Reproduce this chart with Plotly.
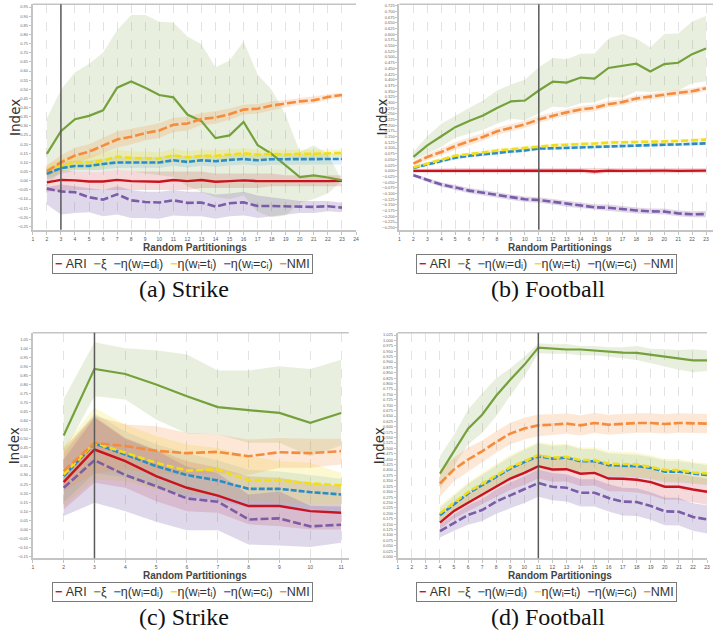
import plotly.graph_objects as go

# ---------------------------------------------------------------------------
# Data: mean index value and band limits per number of random partitionings
# ---------------------------------------------------------------------------
SERIES_KEYS = ["ari", "xi", "eta_d", "eta_t", "eta_c", "nmi"]
SERIES_LABELS = ["ARI", "ξ", "η(wᵢ=dᵢ)", "η(wᵢ=tᵢ)", "η(wᵢ=cᵢ)", "NMI"]

# (a) Strike
X_A = [2, 3, 4, 5, 6, 7, 8, 9, 10, 11, 12, 13, 14, 15, 16, 17, 18, 19, 20, 21, 22, 23]
ARI_A = [-0.009, 0.005, 0.002, -0.004, -0.004, 0.005, -0.002, -0.004, -0.005, 0.004, -0.002, 0.004, -0.005, -0.002, 0.002, -0.002, 0.000, -0.002, -0.002, -0.004, -0.002, 0.000]
ARI_A_HI = [0.05, 0.06, 0.05, 0.05, 0.05, 0.06, 0.05, 0.05, 0.05, 0.05, 0.05, 0.05, 0.04, 0.04, 0.04, 0.04, 0.04, 0.03, 0.03, 0.03, 0.03, 0.03]
ARI_A_LO = [-0.06, -0.05, -0.05, -0.05, -0.05, -0.05, -0.05, -0.05, -0.05, -0.05, -0.05, -0.04, -0.04, -0.04, -0.04, -0.04, -0.03, -0.03, -0.03, -0.03, -0.03, -0.03]
XI_A = [0.147, 0.271, 0.337, 0.355, 0.385, 0.509, 0.543, 0.509, 0.469, 0.456, 0.362, 0.326, 0.233, 0.248, 0.322, 0.195, 0.147, 0.083, 0.020, 0.029, 0.018, 0.002]
XI_A_HI = [0.340, 0.498, 0.594, 0.639, 0.702, 0.823, 0.907, 0.907, 0.870, 0.865, 0.789, 0.747, 0.621, 0.657, 0.762, 0.581, 0.498, 0.358, 0.159, 0.194, 0.147, 0.005]
XI_A_LO = [-0.03, 0.05, 0.06, 0.06, 0.05, 0.06, 0.05, 0.04, 0.03, 0.02, -0.03, -0.06, -0.09, -0.10, -0.08, -0.17, -0.20, -0.19, -0.12, -0.10, -0.07, 0.00]
ETA_D_A = [0.038, 0.069, 0.081, 0.081, 0.092, 0.100, 0.100, 0.101, 0.100, 0.112, 0.103, 0.112, 0.107, 0.114, 0.119, 0.112, 0.118, 0.118, 0.118, 0.118, 0.119, 0.119]
ETA_D_A_HI = [0.068, 0.099, 0.111, 0.111, 0.122, 0.130, 0.130, 0.131, 0.130, 0.142, 0.133, 0.142, 0.137, 0.144, 0.149, 0.142, 0.148, 0.148, 0.148, 0.148, 0.149, 0.149]
ETA_D_A_LO = [0.008, 0.039, 0.051, 0.051, 0.062, 0.070, 0.070, 0.071, 0.070, 0.082, 0.073, 0.082, 0.077, 0.084, 0.089, 0.082, 0.088, 0.088, 0.088, 0.088, 0.089, 0.089]
ETA_T_A = [0.056, 0.083, 0.100, 0.100, 0.110, 0.132, 0.125, 0.125, 0.121, 0.139, 0.128, 0.136, 0.136, 0.143, 0.150, 0.143, 0.147, 0.143, 0.148, 0.148, 0.152, 0.152]
ETA_T_A_HI = [0.086, 0.118, 0.140, 0.140, 0.150, 0.170, 0.160, 0.160, 0.155, 0.175, 0.162, 0.170, 0.168, 0.172, 0.178, 0.170, 0.172, 0.168, 0.170, 0.170, 0.172, 0.172]
ETA_T_A_LO = [0.026, 0.048, 0.060, 0.060, 0.070, 0.095, 0.090, 0.090, 0.088, 0.103, 0.094, 0.102, 0.104, 0.114, 0.122, 0.116, 0.122, 0.118, 0.126, 0.126, 0.132, 0.132]
ETA_C_A = [-0.043, -0.058, -0.063, -0.090, -0.103, -0.074, -0.107, -0.116, -0.119, -0.107, -0.121, -0.119, -0.141, -0.123, -0.118, -0.138, -0.138, -0.141, -0.143, -0.143, -0.139, -0.147]
ETA_C_A_HI = [-0.035, -0.020, -0.030, -0.040, -0.050, -0.030, -0.050, -0.060, -0.060, -0.050, -0.060, -0.060, -0.075, -0.070, -0.060, -0.080, -0.090, -0.100, -0.110, -0.110, -0.110, -0.120]
ETA_C_A_LO = [-0.130, -0.185, -0.176, -0.172, -0.194, -0.185, -0.203, -0.203, -0.208, -0.190, -0.194, -0.194, -0.208, -0.194, -0.190, -0.203, -0.197, -0.185, -0.176, -0.176, -0.166, -0.172]
NMI_A = [0.051, 0.101, 0.138, 0.159, 0.192, 0.226, 0.241, 0.261, 0.275, 0.306, 0.313, 0.338, 0.346, 0.364, 0.389, 0.394, 0.411, 0.422, 0.434, 0.440, 0.458, 0.469]
NMI_A_HI = [0.085, 0.140, 0.180, 0.200, 0.235, 0.270, 0.285, 0.300, 0.315, 0.345, 0.350, 0.370, 0.380, 0.395, 0.415, 0.420, 0.435, 0.442, 0.452, 0.458, 0.472, 0.482]
NMI_A_LO = [0.020, 0.065, 0.100, 0.120, 0.150, 0.180, 0.200, 0.220, 0.235, 0.265, 0.275, 0.305, 0.312, 0.333, 0.362, 0.368, 0.387, 0.402, 0.416, 0.422, 0.444, 0.456]

# (b) Football
X_B = [2, 3, 4, 5, 6, 7, 8, 9, 10, 11, 12, 13, 14, 15, 16, 17, 18, 19, 20, 21, 22, 23]
ARI_B = [0.000, 0.000, 0.000, 0.002, 0.001, 0.000, 0.000, 0.001, 0.000, 0.001, 0.001, 0.000, 0.001, -0.003, 0.001, 0.000, 0.001, 0.000, 0.001, 0.000, 0.000, 0.001]
ARI_B_HI = [0.008, 0.010, 0.010, 0.012, 0.012, 0.011, 0.011, 0.012, 0.011, 0.012, 0.012, 0.011, 0.012, 0.009, 0.012, 0.011, 0.012, 0.011, 0.012, 0.011, 0.011, 0.012]
ARI_B_LO = [-0.008, -0.010, -0.010, -0.008, -0.010, -0.011, -0.011, -0.010, -0.011, -0.010, -0.010, -0.011, -0.010, -0.015, -0.010, -0.011, -0.010, -0.011, -0.010, -0.011, -0.011, -0.010]
XI_B = [0.061, 0.112, 0.152, 0.192, 0.219, 0.243, 0.276, 0.305, 0.309, 0.353, 0.392, 0.388, 0.410, 0.405, 0.452, 0.462, 0.471, 0.437, 0.469, 0.475, 0.513, 0.538]
XI_B_HI = [0.083, 0.152, 0.207, 0.243, 0.276, 0.309, 0.353, 0.379, 0.400, 0.455, 0.496, 0.491, 0.515, 0.516, 0.582, 0.601, 0.582, 0.542, 0.601, 0.604, 0.656, 0.681]
XI_B_LO = [0.047, 0.076, 0.105, 0.146, 0.163, 0.181, 0.207, 0.229, 0.222, 0.251, 0.283, 0.277, 0.297, 0.302, 0.324, 0.321, 0.350, 0.346, 0.350, 0.353, 0.385, 0.394]
ETA_D_B = [0.013, 0.029, 0.044, 0.058, 0.066, 0.073, 0.079, 0.085, 0.090, 0.098, 0.099, 0.101, 0.105, 0.105, 0.109, 0.110, 0.114, 0.114, 0.115, 0.116, 0.118, 0.121]
ETA_D_B_HI = [0.020, 0.037, 0.052, 0.066, 0.074, 0.081, 0.087, 0.093, 0.098, 0.106, 0.107, 0.109, 0.113, 0.113, 0.117, 0.118, 0.122, 0.122, 0.123, 0.124, 0.126, 0.129]
ETA_D_B_LO = [0.006, 0.021, 0.036, 0.050, 0.058, 0.065, 0.071, 0.077, 0.082, 0.090, 0.091, 0.093, 0.097, 0.097, 0.101, 0.102, 0.106, 0.106, 0.107, 0.108, 0.110, 0.113]
ETA_T_B = [0.015, 0.032, 0.050, 0.066, 0.073, 0.082, 0.089, 0.095, 0.101, 0.108, 0.112, 0.115, 0.116, 0.120, 0.124, 0.125, 0.128, 0.128, 0.131, 0.131, 0.134, 0.137]
ETA_T_B_HI = [0.023, 0.040, 0.058, 0.074, 0.081, 0.090, 0.097, 0.103, 0.109, 0.116, 0.120, 0.123, 0.124, 0.128, 0.132, 0.133, 0.136, 0.136, 0.139, 0.139, 0.142, 0.145]
ETA_T_B_LO = [0.007, 0.024, 0.042, 0.058, 0.065, 0.074, 0.081, 0.087, 0.093, 0.100, 0.104, 0.107, 0.108, 0.112, 0.116, 0.117, 0.120, 0.120, 0.123, 0.123, 0.126, 0.129]
ETA_C_B = [-0.019, -0.041, -0.060, -0.073, -0.087, -0.096, -0.106, -0.117, -0.125, -0.128, -0.136, -0.146, -0.152, -0.160, -0.162, -0.169, -0.174, -0.178, -0.179, -0.187, -0.191, -0.190]
ETA_C_B_HI = [-0.013, -0.032, -0.050, -0.062, -0.075, -0.084, -0.094, -0.105, -0.113, -0.116, -0.124, -0.134, -0.140, -0.147, -0.148, -0.156, -0.161, -0.165, -0.166, -0.174, -0.178, -0.176]
ETA_C_B_LO = [-0.025, -0.050, -0.070, -0.084, -0.099, -0.108, -0.118, -0.129, -0.137, -0.140, -0.148, -0.158, -0.164, -0.173, -0.176, -0.182, -0.187, -0.191, -0.192, -0.200, -0.204, -0.204]
NMI_B = [0.032, 0.061, 0.083, 0.109, 0.130, 0.149, 0.174, 0.190, 0.204, 0.226, 0.243, 0.257, 0.270, 0.277, 0.293, 0.302, 0.318, 0.327, 0.335, 0.343, 0.350, 0.363]
NMI_B_HI = [0.042, 0.074, 0.098, 0.126, 0.147, 0.166, 0.191, 0.206, 0.220, 0.242, 0.258, 0.272, 0.285, 0.292, 0.307, 0.316, 0.331, 0.340, 0.348, 0.356, 0.363, 0.375]
NMI_B_LO = [0.022, 0.048, 0.068, 0.092, 0.113, 0.132, 0.157, 0.174, 0.188, 0.210, 0.228, 0.242, 0.255, 0.262, 0.279, 0.288, 0.305, 0.314, 0.322, 0.330, 0.337, 0.351]

# (c) Strike
X_C = [2, 3, 4, 5, 6, 7, 8, 9, 10, 11]
ARI_C = [0.261, 0.441, 0.377, 0.294, 0.230, 0.187, 0.129, 0.129, 0.101, 0.092]
ARI_C_HI = [0.423, 0.625, 0.505, 0.441, 0.377, 0.340, 0.294, 0.285, 0.257, 0.239]
ARI_C_LO = [0.110, 0.257, 0.230, 0.156, 0.101, 0.092, 0.028, 0.018, 0.000, 0.000]
XI_C = [0.518, 0.886, 0.858, 0.800, 0.735, 0.675, 0.658, 0.643, 0.588, 0.643]
XI_C_HI = [0.720, 1.033, 1.000, 0.989, 0.965, 0.877, 0.877, 0.900, 0.886, 0.937]
XI_C_LO = [0.423, 0.735, 0.717, 0.607, 0.530, 0.524, 0.478, 0.478, 0.404, 0.463]
ETA_D_C = [0.294, 0.474, 0.414, 0.349, 0.300, 0.270, 0.224, 0.224, 0.206, 0.193]
ETA_D_C_HI = [0.440, 0.640, 0.540, 0.470, 0.420, 0.380, 0.330, 0.320, 0.300, 0.280]
ETA_D_C_LO = [0.150, 0.310, 0.290, 0.230, 0.180, 0.160, 0.120, 0.130, 0.110, 0.100]
ETA_T_C = [0.303, 0.478, 0.423, 0.368, 0.325, 0.331, 0.272, 0.272, 0.254, 0.243]
ETA_T_C_HI = [0.460, 0.671, 0.579, 0.515, 0.469, 0.450, 0.404, 0.377, 0.368, 0.312]
ETA_T_C_LO = [0.129, 0.276, 0.267, 0.221, 0.193, 0.184, 0.156, 0.147, 0.138, 0.138]
ETA_C_C = [0.230, 0.382, 0.300, 0.239, 0.171, 0.153, 0.055, 0.061, 0.017, 0.026]
ETA_C_C_HI = [0.386, 0.617, 0.500, 0.436, 0.346, 0.310, 0.193, 0.210, 0.131, 0.126]
ETA_C_C_LO = [0.074, 0.147, 0.101, 0.042, -0.004, -0.004, -0.083, -0.088, -0.097, -0.074]
NMI_C = [0.322, 0.478, 0.460, 0.434, 0.421, 0.428, 0.404, 0.426, 0.421, 0.432]
NMI_C_HI = [0.450, 0.628, 0.579, 0.570, 0.533, 0.524, 0.496, 0.505, 0.500, 0.500]
NMI_C_LO = [0.210, 0.310, 0.330, 0.310, 0.300, 0.310, 0.300, 0.340, 0.340, 0.358]

# (d) Football
X_D = [4, 5, 6, 7, 8, 9, 10, 11, 12, 13, 14, 15, 16, 17, 18, 19, 20, 21, 22, 23]
ARI_D = [0.157, 0.211, 0.249, 0.287, 0.326, 0.361, 0.387, 0.418, 0.403, 0.404, 0.383, 0.387, 0.361, 0.360, 0.355, 0.344, 0.323, 0.323, 0.310, 0.300]
ARI_D_HI = [0.187, 0.246, 0.289, 0.332, 0.376, 0.414, 0.442, 0.475, 0.460, 0.461, 0.440, 0.445, 0.420, 0.419, 0.414, 0.404, 0.383, 0.383, 0.370, 0.360]
ARI_D_LO = [0.127, 0.176, 0.209, 0.242, 0.276, 0.308, 0.332, 0.361, 0.346, 0.347, 0.326, 0.329, 0.302, 0.301, 0.296, 0.284, 0.263, 0.263, 0.250, 0.240]
XI_D = [0.384, 0.487, 0.592, 0.656, 0.744, 0.818, 0.887, 0.967, 0.962, 0.958, 0.958, 0.953, 0.947, 0.944, 0.942, 0.933, 0.927, 0.916, 0.908, 0.908]
XI_D_HI = [0.464, 0.564, 0.679, 0.756, 0.825, 0.871, 0.925, 0.987, 0.982, 0.984, 0.974, 0.974, 0.968, 0.968, 0.974, 0.962, 0.959, 0.956, 0.959, 0.953]
XI_D_LO = [0.310, 0.418, 0.518, 0.572, 0.649, 0.744, 0.833, 0.941, 0.938, 0.938, 0.931, 0.931, 0.925, 0.918, 0.910, 0.895, 0.879, 0.864, 0.853, 0.859]
ETA_D_D = [0.191, 0.241, 0.292, 0.330, 0.369, 0.407, 0.437, 0.464, 0.453, 0.458, 0.441, 0.441, 0.423, 0.421, 0.418, 0.410, 0.393, 0.392, 0.384, 0.377]
ETA_D_D_HI = [0.226, 0.280, 0.336, 0.378, 0.420, 0.461, 0.494, 0.523, 0.512, 0.516, 0.498, 0.497, 0.478, 0.475, 0.471, 0.461, 0.443, 0.441, 0.431, 0.423]
ETA_D_D_LO = [0.156, 0.202, 0.248, 0.282, 0.318, 0.353, 0.380, 0.405, 0.394, 0.400, 0.384, 0.385, 0.368, 0.367, 0.365, 0.359, 0.343, 0.343, 0.337, 0.331]
ETA_T_D = [0.200, 0.249, 0.298, 0.337, 0.375, 0.413, 0.441, 0.469, 0.458, 0.461, 0.446, 0.446, 0.430, 0.427, 0.426, 0.415, 0.401, 0.400, 0.389, 0.384]
ETA_T_D_HI = [0.236, 0.289, 0.343, 0.386, 0.428, 0.470, 0.500, 0.530, 0.519, 0.521, 0.505, 0.504, 0.487, 0.483, 0.481, 0.468, 0.453, 0.451, 0.438, 0.432]
ETA_T_D_LO = [0.164, 0.209, 0.253, 0.288, 0.322, 0.356, 0.382, 0.408, 0.397, 0.401, 0.387, 0.388, 0.373, 0.371, 0.371, 0.362, 0.349, 0.349, 0.340, 0.336]
ETA_C_D = [0.118, 0.157, 0.192, 0.215, 0.254, 0.283, 0.310, 0.340, 0.323, 0.318, 0.295, 0.295, 0.271, 0.254, 0.252, 0.234, 0.209, 0.207, 0.183, 0.172]
ETA_C_D_HI = [0.148, 0.195, 0.237, 0.266, 0.310, 0.343, 0.372, 0.403, 0.386, 0.381, 0.358, 0.358, 0.334, 0.318, 0.316, 0.298, 0.273, 0.271, 0.247, 0.237]
ETA_C_D_LO = [0.088, 0.119, 0.147, 0.164, 0.198, 0.223, 0.248, 0.277, 0.260, 0.255, 0.232, 0.232, 0.208, 0.190, 0.188, 0.170, 0.145, 0.143, 0.119, 0.107]
NMI_D = [0.338, 0.403, 0.449, 0.487, 0.530, 0.569, 0.592, 0.607, 0.610, 0.615, 0.607, 0.618, 0.610, 0.615, 0.618, 0.618, 0.613, 0.618, 0.618, 0.615]
NMI_D_HI = [0.398, 0.458, 0.504, 0.537, 0.580, 0.619, 0.642, 0.657, 0.658, 0.662, 0.654, 0.664, 0.656, 0.660, 0.663, 0.663, 0.658, 0.663, 0.663, 0.660]
NMI_D_LO = [0.278, 0.348, 0.394, 0.437, 0.480, 0.519, 0.542, 0.557, 0.562, 0.568, 0.560, 0.572, 0.564, 0.570, 0.573, 0.573, 0.568, 0.573, 0.573, 0.570]

# selected number of partitionings, marked by a vertical rule
CUTOFF_A, CUTOFF_B, CUTOFF_C, CUTOFF_D = 3, 11, 3, 11
CAPTIONS = ["(a) Strike", "(b) Football", "(c) Strike", "(d) Football"]

# ---------------------------------------------------------------------------
# Styling
# ---------------------------------------------------------------------------
W, H = 716, 637
STYLE = {
    "ari":   dict(rgb=(200, 20, 30),  dash="solid",   width=2.4, alpha=0.16),
    "xi":    dict(rgb=(116, 161, 59), dash="solid",   width=2.2, alpha=0.17),
    "eta_d": dict(rgb=(43, 140, 196), dash="6px,2px", width=2.6, alpha=0.14),
    "eta_t": dict(rgb=(240, 222, 26), dash="7px,3px", width=2.6, alpha=0.20),
    "eta_c": dict(rgb=(123, 92, 166), dash="8px,3px", width=2.6, alpha=0.24),
    "nmi":   dict(rgb=(245, 139, 60), dash="9px,3px", width=2.6, alpha=0.20),
}
SANS = "Liberation Sans, Arial, sans-serif"
SERIF = "Liberation Serif, Times New Roman, serif"
KEY_FONT_SIZE = 12.5


def rgb(c, a=None):
    if a is None:
        return "rgb(%d,%d,%d)" % c
    return "rgba(%d,%d,%d,%.2f)" % (c[0], c[1], c[2], a)


def px_x(v):
    return v / W


def px_y(v):
    return 1 - v / H


PANELS = [
    dict(x=X_A, data={"ari": (ARI_A, ARI_A_LO, ARI_A_HI), "xi": (XI_A, XI_A_LO, XI_A_HI),
                      "eta_d": (ETA_D_A, ETA_D_A_LO, ETA_D_A_HI), "eta_t": (ETA_T_A, ETA_T_A_LO, ETA_T_A_HI),
                      "eta_c": (ETA_C_A, ETA_C_A_LO, ETA_C_A_HI), "nmi": (NMI_A, NMI_A_LO, NMI_A_HI)},
         cutoff=CUTOFF_A, xdom=(32, 357), ydom=(3.3, 229.5), xr=(1, 24), yr=(-0.268, 0.965),
         tick0=-0.25, dtick=0.05, fmt=".2f"),
    dict(x=X_B, data={"ari": (ARI_B, ARI_B_LO, ARI_B_HI), "xi": (XI_B, XI_B_LO, XI_B_HI),
                      "eta_d": (ETA_D_B, ETA_D_B_LO, ETA_D_B_HI), "eta_t": (ETA_T_B, ETA_T_B_LO, ETA_T_B_HI),
                      "eta_c": (ETA_C_B, ETA_C_B_LO, ETA_C_B_HI), "nmi": (NMI_B, NMI_B_LO, NMI_B_HI)},
         cutoff=CUTOFF_B, xdom=(400.7, 716), ydom=(3.3, 229.5), xr=(1, 23.5), yr=(-0.259, 0.732),
         tick0=-0.25, dtick=0.025, fmt=".3f"),
    dict(x=X_C, data={"ari": (ARI_C, ARI_C_LO, ARI_C_HI), "xi": (XI_C, XI_C_LO, XI_C_HI),
                      "eta_d": (ETA_D_C, ETA_D_C_LO, ETA_D_C_HI), "eta_t": (ETA_T_C, ETA_T_C_LO, ETA_T_C_HI),
                      "eta_c": (ETA_C_C, ETA_C_C_LO, ETA_C_C_HI), "nmi": (NMI_C, NMI_C_LO, NMI_C_HI)},
         cutoff=CUTOFF_C, xdom=(32, 349.75), ydom=(332.7, 559), xr=(1, 11.25), yr=(-0.159, 1.086),
         tick0=-0.15, dtick=0.05, fmt=".2f"),
    dict(x=X_D, data={"ari": (ARI_D, ARI_D_LO, ARI_D_HI), "xi": (XI_D, XI_D_LO, XI_D_HI),
                      "eta_d": (ETA_D_D, ETA_D_D_LO, ETA_D_D_HI), "eta_t": (ETA_T_D, ETA_T_D_LO, ETA_T_D_HI),
                      "eta_c": (ETA_C_D, ETA_C_D_LO, ETA_C_D_HI), "nmi": (NMI_D, NMI_D_LO, NMI_D_HI)},
         cutoff=CUTOFF_D, xdom=(399, 710), ydom=(332.7, 559), xr=(1, 23), yr=(-0.008, 1.036),
         tick0=0.0, dtick=0.025, fmt=".3f"),
]

fig = go.Figure()
layout = dict(width=W, height=H, margin=dict(l=0, r=0, t=0, b=0),
              paper_bgcolor="white", plot_bgcolor="white", showlegend=False,
              font=dict(family=SANS, color="#333"))
shapes, annotations = [], []

# series key text: coloured dash followed by the series name
key_parts = []
for key, label in zip(SERIES_KEYS, SERIES_LABELS):
    key_parts.append('<span style="color:%s;font-size:%spx"><b>−</b></span>%s'
                     % (rgb(STYLE[key]["rgb"]), KEY_FONT_SIZE, label))
KEY_TEXT = "&nbsp;&nbsp;".join(key_parts)
KEY_TEXT = KEY_TEXT.replace("</span>ARI", "</span>&nbsp;ARI", 1)

for i, p in enumerate(PANELS):
    n = "" if i == 0 else str(i + 1)
    xa, ya = "x" + n, "y" + n
    xs = p["x"]
    # confidence bands
    for key in SERIES_KEYS:
        mean, lo, hi = p["data"][key]
        st = STYLE[key]
        fig.add_trace(go.Scatter(x=xs + xs[::-1], y=hi + lo[::-1], fill="toself",
                                 fillcolor=rgb(st["rgb"], st["alpha"]), line=dict(width=0),
                                 mode="lines", hoverinfo="skip", xaxis=xa, yaxis=ya))
    # mean curves
    for key, label in zip(SERIES_KEYS, SERIES_LABELS):
        mean, lo, hi = p["data"][key]
        st = STYLE[key]
        fig.add_trace(go.Scatter(x=xs, y=mean, mode="lines", name=label,
                                 line=dict(color=rgb(st["rgb"]), width=st["width"], dash=st["dash"]),
                                 xaxis=xa, yaxis=ya))

    x0, x1 = p["xdom"]
    y0, y1 = p["ydom"]
    layout["xaxis" + n] = dict(
        domain=[px_x(x0), px_x(x1)], range=list(p["xr"]), anchor=ya,
        tickmode="linear", tick0=1, dtick=1, showgrid=True, gridcolor="#e3e3e3",
        griddash="dash", gridwidth=1, showline=True, linecolor="#c4c4c4", linewidth=2,
        ticks="outside", ticklen=3, tickcolor="#c4c4c4", tickwidth=1,
        tickfont=dict(size=5, color="#555", family=SANS), zeroline=False)
    layout["yaxis" + n] = dict(
        domain=[px_y(y1), px_y(y0)], range=list(p["yr"]), anchor=xa,
        tickmode="linear", tick0=p["tick0"], dtick=p["dtick"], tickformat=p["fmt"],
        showgrid=False, zeroline=False, showline=True, linecolor="#c4c4c4", linewidth=2,
        ticks="outside", ticklen=2, tickcolor="#c4c4c4", tickwidth=1,
        tickfont=dict(size=4, color="#666", family=SANS))

    # top frame line and the vertical rule at the selected partitioning count
    shapes.append(dict(type="line", xref=xa + " domain", yref=ya + " domain", x0=0, x1=1, y0=1, y1=1,
                       line=dict(color="#c4c4c4", width=1.5)))
    shapes.append(dict(type="line", xref=xa, yref=ya + " domain", x0=p["cutoff"], x1=p["cutoff"],
                       y0=0, y1=1, line=dict(color="#5a5a5a", width=1.5)))

    left = i % 2 == 0
    # y-axis title
    annotations.append(dict(text="Index", xref="paper", yref="paper", x=px_x(x0 - 18),
                            y=px_y((y0 + y1) / 2), textangle=-90, showarrow=False,
                            font=dict(size=13.5, color="#333", family="DejaVu Sans"),
                            xanchor="center", yanchor="middle"))
    # x-axis title
    annotations.append(dict(text="<b>Random Partitionings</b>", xref="paper", yref="paper",
                            x=px_x(195 if left else 562), y=px_y(y1 + 17.5), showarrow=False,
                            font=dict(size=10, color="#444", family=SANS),
                            xanchor="center", yanchor="middle"))
    # series key
    annotations.append(dict(text=KEY_TEXT, xref="paper", yref="paper",
                            x=px_x(183 if left else 549), y=px_y(y1 + 34), showarrow=False,
                            font=dict(size=KEY_FONT_SIZE, color="#333", family=SANS),
                            bordercolor="#7a7a7a", borderwidth=1, borderpad=2,
                            xanchor="center", yanchor="middle"))
    # caption
    annotations.append(dict(text=CAPTIONS[i], xref="paper", yref="paper",
                            x=px_x(184 if left else 550), y=px_y(y1 + 59), showarrow=False,
                            font=dict(size=24, color="#111", family=SERIF),
                            xanchor="center", yanchor="middle"))

layout["shapes"] = shapes
layout["annotations"] = annotations
fig.update_layout(**layout)
fig.write_html("out.html")
